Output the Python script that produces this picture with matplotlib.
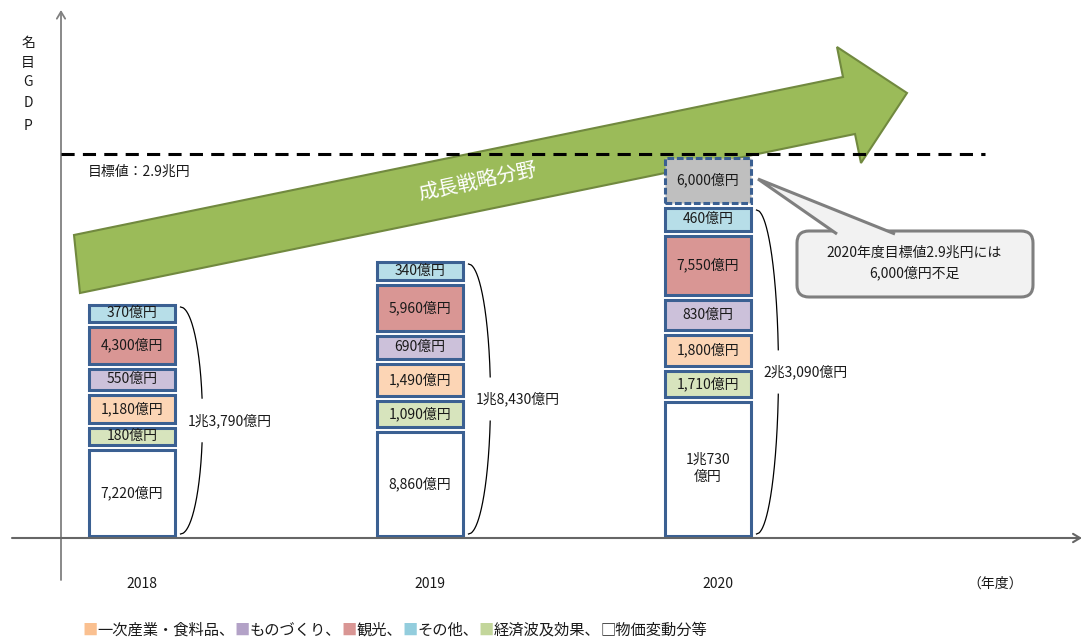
import numpy as np
import matplotlib
matplotlib.use('Agg')
import matplotlib.pyplot as plt
import matplotlib.transforms as mtransforms
from matplotlib.patches import Polygon, FancyBboxPatch

plt.rcParams['font.family'] = ['Noto Sans CJK JP', 'DejaVu Sans']

# values in 億円, bottom to top:
# 物価変動分等, 経済波及効果, 一次産業・食料品, ものづくり, 観光, その他
years = ['2018', '2019', '2020']
val_2018 = [7220, 180, 1180, 550, 4300, 370]
val_2019 = [8860, 1090, 1490, 690, 5960, 340]
val_2020 = [10730, 1710, 1800, 830, 7550, 460]
totals = [13790, 18430, 23090]
shortfall = 6000

# box heights as drawn in the original chart (schematic, not to scale)
h_2018 = [91, 22, 33, 26, 42, 22]
h_2019 = [109, 31, 37, 28, 51, 23]
h_2020 = [139, 31, 36, 35, 64, 28]
h_shortfall = 50
h_target = 384

seg_colors = ['white', '#D7E4BD', '#FCD5B5', '#CCC1DA', '#D99694', '#B7DEE8']
legend_labels = ['一次産業・食料品、', 'ものづくり、', '観光、', 'その他、', '経済波及効果、']
legend_colors = ['#FAC090', '#B3A2C7', '#D99694', '#93CDDD', '#C3D69B']
legend_last = '□物価変動分等'

EDGE = '#3B6092'
LW = 2.2
PX_PER_X = 288.0   # pixels per category step
X0 = 132.0         # pixel x of first bar
BASE = 538.0       # pixel y of x axis


def fmt(v, wrap=False):
    if v >= 10000:
        s = f'{v // 10000}兆{v % 10000:,}'
        return s + ('\n億円' if wrap else '億円')
    return f'{v:,}億円'


def dx(p):
    # pixel distance -> x data units
    return p / PX_PER_X


fig = plt.figure(figsize=(10.84, 6.39), dpi=100)
ax = fig.add_axes([0, 0, 1, 1])
ax.set_xlim(-X0 / PX_PER_X, (1084 - X0) / PX_PER_X)
ax.set_ylim(BASE - 639, BASE)
ax.axis('off')

# image-pixel transform (y downwards) for the decorations
px = mtransforms.Affine2D().scale(1 / 1084, -1 / 639).translate(0, 1) + fig.transFigure

# green growth arrow
arrow = Polygon([(74, 235), (843, 77), (837, 47), (907, 93), (861, 163), (855, 134), (80, 293)],
                closed=True, fc='#9BBB59', ec='#71893F', lw=1.5, transform=px, zorder=0.5)
ax.add_patch(arrow)
ax.text(478, 182, '成長戦略分野', transform=px, color='white', fontsize=14.5,
        rotation=12, ha='center', va='center', rotation_mode='anchor', zorder=0.6)

# axes lines
yx = dx(61 - X0)
ax.annotate('', xy=(yx, 528), xytext=(yx, -42),
            arrowprops=dict(arrowstyle='->,head_length=0.5,head_width=0.3', color='#808080',
                            lw=1.3, shrinkA=0, shrinkB=0))
ax.annotate('', xy=(dx(1082 - X0), 0), xytext=(dx(12 - X0), 0),
            arrowprops=dict(arrowstyle='->,head_length=0.5,head_width=0.3', color='#666666',
                            lw=1.5, shrinkA=0, shrinkB=0))

# stacked boxes
bw = dx(86)
inset = 2.5
stacks = [val_2018, val_2019, val_2020]
heights = [h_2018, h_2019, h_2020]
for i, (vals, hs) in enumerate(zip(stacks, heights)):
    hs = np.array(hs, dtype=float)
    bottoms = np.concatenate([[0], np.cumsum(hs)[:-1]])
    ax.bar(i, hs - 2 * inset, bottom=bottoms + inset, width=bw, color=seg_colors,
           edgecolor=EDGE, linewidth=LW, zorder=2)
    for j, (v, b, h) in enumerate(zip(vals, bottoms, hs)):
        ax.text(i, b + h / 2, fmt(v, wrap=(j == 0 and v >= 10000)), ha='center', va='center',
                fontsize=10, color='#1a1a1a', zorder=4, linespacing=1.3)

    # brace with total
    top = hs.sum() - 5
    bot = 4
    mid = (top + bot) / 2
    t = np.linspace(-1, 1, 300)
    yy = bot + (top - bot) * (t + 1) / 2
    xx = i + dx(44.5 + 4 + 22 * np.sqrt(1 - t ** 2))
    gap = np.abs(yy - mid) < 22
    xu = np.where(gap, np.nan, xx)
    ax.plot(xu, yy, color='black', lw=0.9, zorder=3)
    ax.text(i + dx(44.5 + 11), mid, fmt(totals[i]), ha='left', va='center',
            fontsize=10, color='#1a1a1a', zorder=4)

    ax.text(i + dx(10), -46, years[i], ha='center', va='center', fontsize=10, color='#1a1a1a')

# shortfall box on top of 2020
top2020 = sum(h_2020)
ax.bar(2, h_shortfall - 2 * inset, bottom=top2020 + inset, width=bw, color='#BFBFBF',
       edgecolor=EDGE, linewidth=LW, linestyle=(0, (2.2, 0.9)), zorder=2)
ax.text(2, top2020 + h_shortfall / 2, fmt(shortfall), ha='center', va='center',
        fontsize=10, color='#1a1a1a', zorder=4)

# target line
ax.plot([yx, dx(985 - X0)], [h_target, h_target], color='black', lw=LW,
        linestyle=(0, (4.3, 2.7)), solid_capstyle='butt', dash_capstyle='butt', zorder=3)
ax.text(88, 172, '目標値：2.9兆円', transform=px, ha='left', va='center', fontsize=10,
        color='#1a1a1a')

# callout
box = FancyBboxPatch((797, 231), 236, 66, boxstyle='round,pad=0,rounding_size=12',
                     fc='#F2F2F2', ec='#7F7F7F', lw=2.2, transform=px, zorder=5)
ax.add_patch(box)
ptr = Polygon([(837, 234), (758, 179), (895, 234)], closed=False, fc='#F2F2F2',
              ec='#7F7F7F', lw=2.2, transform=px, zorder=6, joinstyle='miter')
ax.add_patch(ptr)
ax.text(914, 263, '2020年度目標値2.9兆円には\n6,000億円不足', transform=px, ha='center',
        va='center', fontsize=10, color='#1a1a1a', linespacing=1.5, zorder=7)

# y label
for ch, yp in zip('名目GDP', [43, 63, 82, 103, 126]):
    ax.text(28, yp, ch, transform=px, ha='center', va='center', fontsize=10, color='#1a1a1a')

ax.text(995, 584, '（年度）', transform=px, ha='center', va='center', fontsize=10,
        color='#1a1a1a')

# legend line
prev = ax.text(82, 630, '■', transform=px, ha='left', va='center', fontsize=11,
               color=legend_colors[0])
for k, (lab, col) in enumerate(zip(legend_labels, legend_colors)):
    if k > 0:
        prev = ax.annotate('■', xy=(1, 0), xycoords=prev, ha='left', va='bottom',
                           fontsize=11, color=col)
    prev = ax.annotate(lab, xy=(1, 0), xycoords=prev, ha='left', va='bottom',
                       fontsize=11, color='#1a1a1a')
ax.annotate(legend_last, xy=(1, 0), xycoords=prev, ha='left', va='bottom',
            fontsize=11, color='#1a1a1a')

fig.savefig('out.png', dpi=100, facecolor='white')
